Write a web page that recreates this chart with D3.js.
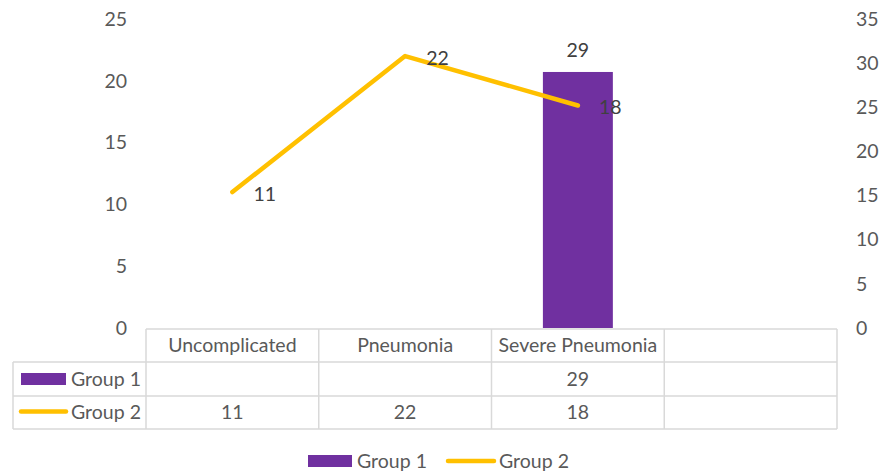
<!DOCTYPE html>
<html>
<head>
<meta charset="utf-8">
<script src="https://cdn.jsdelivr.net/npm/d3@7"></script>
<style>
  body { margin: 0; background: #fff; }
  text { font-family: Lato, "Open Sans", sans-serif; fill: #595959; }
</style>
</head>
<body>
<script>
// chart values
var categories = ["Uncomplicated", "Pneumonia", "Severe Pneumonia", " "];
var group1 = [null, null, 29, null];
var group2 = [11, 22, 18, null];
var leftTicks = [0, 5, 10, 15, 20, 25];
var rightTicks = [0, 5, 10, 15, 20, 25, 30, 35];
var seriesNames = ["Group 1", "Group 2"];

var W = 890, H = 472;
var plot = {left: 146, right: 837, top: 19, bottom: 328};
var purple = "#7030A0", gold = "#FFC000", grid = "#D9D9D9";
var fs = 19.5;

var svg = d3.select("body").append("svg")
    .attr("width", W)
    .attr("height", H);

var x = d3.scaleBand()
    .domain(categories)
    .range([plot.left, plot.right]);

var yL = d3.scaleLinear().domain([0, 25]).range([plot.bottom, plot.top]);
var yR = d3.scaleLinear().domain([0, 35]).range([plot.bottom, plot.top]);

// axes, labels only
var leftAxis = d3.axisLeft(yL).tickValues(leftTicks).tickSize(0).tickPadding(0);
svg.append("g")
    .attr("transform", "translate(127,0)")
    .call(leftAxis)
    .call(function (g) { g.select(".domain").remove(); })
    .selectAll("text")
    .attr("font-size", fs).attr("font-family", null).attr("fill", "#595959");

var rightAxis = d3.axisRight(yR).tickValues(rightTicks).tickSize(0).tickPadding(0);
svg.append("g")
    .attr("transform", "translate(856,0)")
    .call(rightAxis)
    .call(function (g) { g.select(".domain").remove(); })
    .selectAll("text")
    .attr("font-size", fs).attr("font-family", null).attr("fill", "#595959");

// bars (secondary axis)
var barW = x.bandwidth() * 0.405;
var barData = categories.map(function (c, i) { return {c: c, v: group1[i]}; })
    .filter(function (d) { return d.v != null; });

svg.append("g").selectAll("rect")
    .data(barData)
    .enter().append("rect")
    .attr("x", function (d) { return x(d.c) + x.bandwidth() / 2 - barW / 2; })
    .attr("y", function (d) { return yR(d.v); })
    .attr("width", barW)
    .attr("height", function (d) { return yR(0) - yR(d.v); })
    .attr("fill", purple);

svg.append("g").selectAll("text")
    .data(barData)
    .enter().append("text")
    .attr("x", function (d) { return x(d.c) + x.bandwidth() / 2; })
    .attr("y", function (d) { return yR(d.v) - 22; })
    .attr("dy", "0.35em")
    .attr("text-anchor", "middle")
    .attr("font-size", fs)
    .style("fill", "#404040")
    .text(function (d) { return d.v; });

// line (primary axis)
var pts = categories.map(function (c, i) { return {c: c, v: group2[i]}; })
    .filter(function (d) { return d.v != null; });

var line = d3.line()
    .x(function (d) { return x(d.c) + x.bandwidth() / 2; })
    .y(function (d) { return yL(d.v); });

svg.append("path")
    .datum(pts)
    .attr("d", line)
    .attr("fill", "none")
    .attr("stroke", gold)
    .attr("stroke-width", 4.5)
    .attr("stroke-linecap", "round")
    .attr("stroke-linejoin", "round");

svg.append("g").selectAll("text")
    .data(pts)
    .enter().append("text")
    .attr("x", function (d) { return x(d.c) + x.bandwidth() / 2 + 21; })
    .attr("y", function (d) { return yL(d.v) + 2; })
    .attr("dy", "0.35em")
    .attr("font-size", fs)
    .style("fill", "#404040")
    .text(function (d) { return d.v; });

// data table
var rowTop = [329, 362, 396], rowH = [33, 34, 33];
var tableLeft = 13;
var tb = svg.append("g").attr("stroke", grid).attr("stroke-width", 1.5).attr("fill", "none");

// horizontal lines
tb.append("line").attr("x1", plot.left).attr("x2", plot.right).attr("y1", rowTop[0]).attr("y2", rowTop[0]);
tb.append("line").attr("x1", tableLeft).attr("x2", plot.right).attr("y1", rowTop[1]).attr("y2", rowTop[1]);
tb.append("line").attr("x1", tableLeft).attr("x2", plot.right).attr("y1", rowTop[2]).attr("y2", rowTop[2]);
tb.append("line").attr("x1", tableLeft).attr("x2", plot.right).attr("y1", 429).attr("y2", 429);
// vertical lines
tb.append("line").attr("x1", tableLeft).attr("x2", tableLeft).attr("y1", rowTop[1]).attr("y2", 429);
categories.forEach(function (c) {
  tb.append("line").attr("x1", x(c)).attr("x2", x(c)).attr("y1", rowTop[0]).attr("y2", 429);
});
tb.append("line").attr("x1", plot.right).attr("x2", plot.right).attr("y1", rowTop[0]).attr("y2", 429);

// header row
svg.append("g").selectAll("text")
    .data(categories)
    .enter().append("text")
    .attr("x", function (d) { return x(d) + x.bandwidth() / 2; })
    .attr("y", rowTop[0] + rowH[0] / 2)
    .attr("dy", "0.35em")
    .attr("text-anchor", "middle")
    .attr("font-size", fs)
    .text(function (d) { return d; });

// value rows
[group1, group2].forEach(function (vals, r) {
  var cy = rowTop[r + 1] + rowH[r + 1] / 2;
  svg.append("g").selectAll("text")
      .data(categories.map(function (c, i) { return {c: c, v: vals[i]}; })
            .filter(function (d) { return d.v != null; }))
      .enter().append("text")
      .attr("x", function (d) { return x(d.c) + x.bandwidth() / 2; })
      .attr("y", cy)
      .attr("dy", "0.35em")
      .attr("text-anchor", "middle")
      .attr("font-size", fs)
      .text(function (d) { return d.v; });

  if (r === 0) {
    svg.append("rect").attr("x", 21).attr("y", cy - 6).attr("width", 45).attr("height", 12).attr("fill", purple);
  } else {
    svg.append("line").attr("x1", 21).attr("x2", 66).attr("y1", cy - 1).attr("y2", cy - 1)
        .attr("stroke", gold).attr("stroke-width", 4.5).attr("stroke-linecap", "round");
  }
  svg.append("text")
      .attr("x", 71).attr("y", cy)
      .attr("dy", "0.35em")
      .attr("font-size", fs)
      .text(seriesNames[r]);
});

// legend
var ly = 461;
svg.append("rect").attr("x", 308).attr("y", ly - 6).attr("width", 44).attr("height", 12).attr("fill", purple);
svg.append("text").attr("x", 357).attr("y", ly).attr("dy", "0.35em").attr("font-size", fs).text(seriesNames[0]);
svg.append("line").attr("x1", 448).attr("x2", 494).attr("y1", ly).attr("y2", ly)
    .attr("stroke", gold).attr("stroke-width", 4.5).attr("stroke-linecap", "round");
svg.append("text").attr("x", 499).attr("y", ly).attr("dy", "0.35em").attr("font-size", fs).text(seriesNames[1]);
</script>
</body>
</html>
